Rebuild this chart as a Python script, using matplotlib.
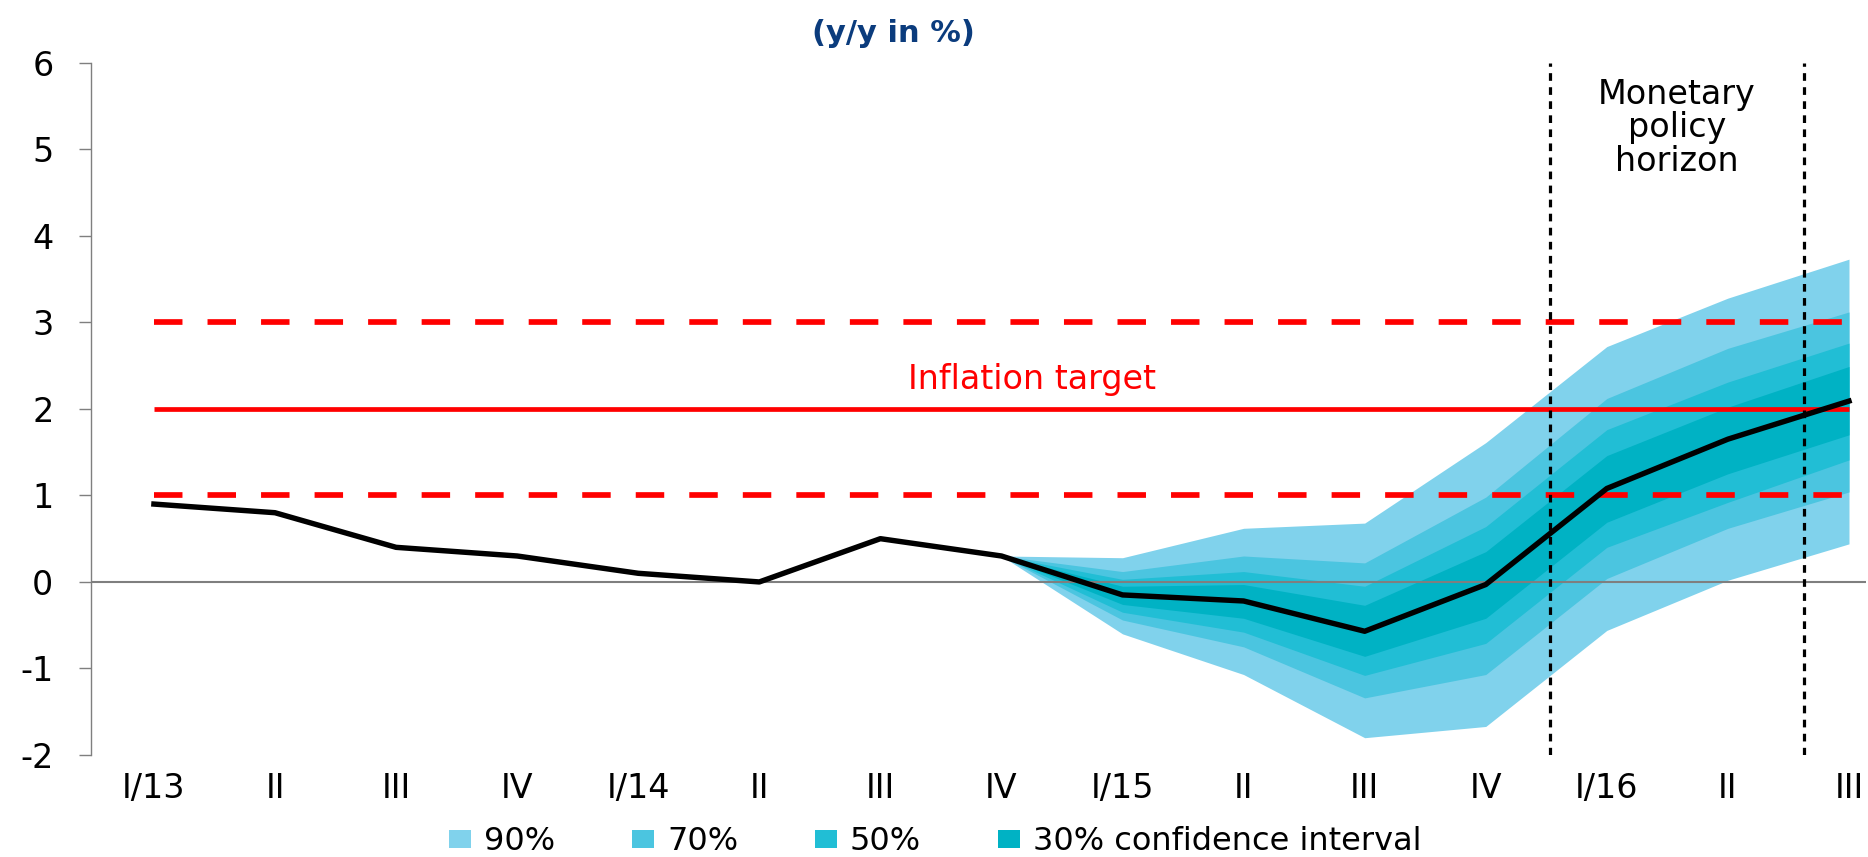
import matplotlib
matplotlib.use('Agg')
import matplotlib.pyplot as plt
from matplotlib.patches import Patch

plt.rcParams['font.family'] = ['DejaVu Sans']
plt.rcParams['axes.unicode_minus'] = False

# quarters and y/y inflation (actual + projection)
quarters = ['I/13', 'II', 'III', 'IV', 'I/14', 'II', 'III', 'IV',
            'I/15', 'II', 'III', 'IV', 'I/16', 'II', 'III']
inflation = [0.9, 0.8, 0.4, 0.3, 0.1, 0.0, 0.5, 0.3,
             -0.15, -0.22, -0.57, -0.03, 1.08, 1.65, 2.09]

# fan chart bands, starting at IV/14
fan_start = 7
upper90 = [0.3, 0.28, 0.62, 0.68, 1.61, 2.72, 3.28, 3.73]
upper70 = [0.3, 0.12, 0.30, 0.22, 0.98, 2.12, 2.70, 3.12]
upper50 = [0.3, 0.03, 0.12, -0.05, 0.64, 1.76, 2.31, 2.76]
upper30 = [0.3, -0.05, -0.03, -0.27, 0.35, 1.46, 2.02, 2.49]
lower30 = [0.3, -0.26, -0.42, -0.86, -0.42, 0.69, 1.25, 1.70]
lower50 = [0.3, -0.35, -0.58, -1.08, -0.71, 0.40, 0.92, 1.41]
lower70 = [0.3, -0.44, -0.75, -1.34, -1.07, 0.04, 0.62, 1.04]
lower90 = [0.3, -0.60, -1.07, -1.80, -1.67, -0.56, 0.02, 0.44]

band_labels = ['90%', '70%', '50%', '30% confidence interval']
band_colors = ['#80D2EC', '#4BC5E0', '#21BED5', '#00B2C4']

target = 2
tolerance = [1, 3]
horizon = [11.53, 13.63]

fig = plt.figure(figsize=(18.68, 8.57), dpi=100)
ax = fig.add_axes([0.0487, 0.1190, 0.9502, 0.8078])

xs = list(range(len(quarters)))
fx = xs[fan_start:]

# fan, from widest to narrowest
bands = [(upper90, lower90), (upper70, lower70), (upper50, lower50), (upper30, lower30)]
for (up, lo), col in zip(bands, band_colors):
    ax.fill_between(fx, lo, up, color=col, lw=0, zorder=1)

ax.axhline(0, color='#7f7f7f', lw=1.5, zorder=2)

ax.hlines(target, xs[0], xs[-1], color='#ff0000', lw=3.4, zorder=3)
for t in tolerance:
    ax.plot([xs[0], xs[-1]], [t, t], color='#ff0000', lw=4.1,
            dashes=(5.0, 4.4), zorder=3)

for h in horizon:
    ax.axvline(h, color='black', lw=2.3, dashes=(2.4, 2.0), zorder=4)

ax.plot(xs, inflation, color='black', lw=3.9, zorder=5)

ax.text(7.25, 2.34, 'Inflation target', color='#ff0000', fontsize=24,
        ha='center', va='center')
ax.text(12.58, 5.25, 'Monetary\npolicy\nhorizon', fontsize=24,
        ha='center', va='center', linespacing=1.02)

ax.set_xlim(-0.52, 14.14)
ax.set_ylim(-2, 6)
ax.set_yticks(range(-2, 7))
ax.set_xticks(xs)
ax.set_xticklabels(quarters)
ax.tick_params(axis='x', length=0, pad=12, labelsize=24)
ax.tick_params(axis='y', length=9, width=1, color='#7f7f7f', pad=18, labelsize=24)

for s in ['top', 'right', 'bottom']:
    ax.spines[s].set_visible(False)
ax.spines['left'].set_color('#7f7f7f')
ax.spines['left'].set_linewidth(1)

fig.text(893 / 1868, 1 - 33 / 857, '(y/y in %)', ha='center', va='center',
         fontsize=22, fontweight='bold', color='#0B3C7D')

handles = [Patch(facecolor=c, lw=0, label=l) for c, l in zip(band_colors, band_labels)]
fig.legend(handles=handles, loc='center left', bbox_to_anchor=(449 / 1868, 1 - 842 / 857),
           ncol=4, frameon=False, fontsize=23, handlelength=0.7, handleheight=0.5,
           handletextpad=0.4, columnspacing=2.4, borderpad=0, borderaxespad=0)

fig.savefig('out.png', dpi=100)
